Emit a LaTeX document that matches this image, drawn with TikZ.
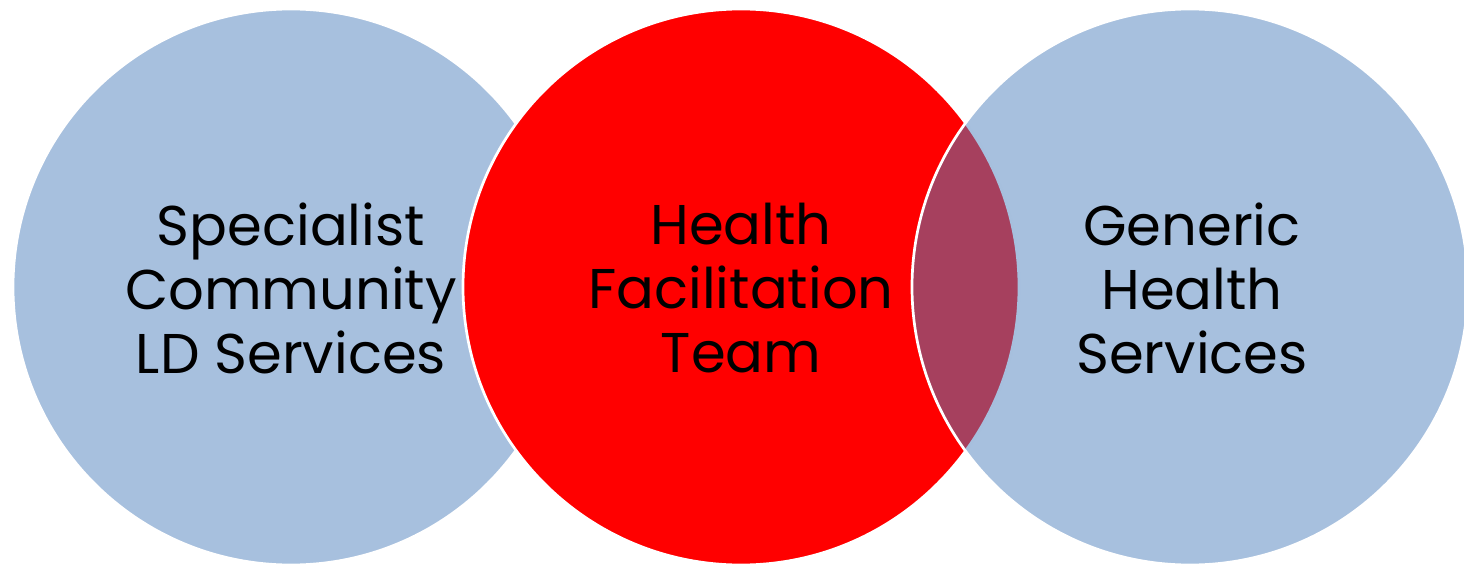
\documentclass[tikz,border=0pt]{standalone}
\usepackage{fontspec}
\setmainfont{Poppins}
\definecolor{officeblue}{RGB}{79,129,189}
\definecolor{vennred}{RGB}{255,0,0}
\begin{document}
\begin{tikzpicture}[x=1pt,y=-1pt,
  venn/.style={circle, minimum size=556pt, inner sep=0pt, draw=white, line width=2.7pt},
  bluecircle/.style={venn, fill=officeblue, fill opacity=0.5},
  redcircle/.style={venn, fill=vennred},
  label/.style={align=center, text=black, font=\fontsize{56}{64}\selectfont}]
\useasboundingbox (0,0) rectangle (1464,567);
\node[bluecircle] (left) at (291,287) {};
\node[redcircle] (mid) at (741,287) {};
\node[bluecircle] (right) at (1190,287) {};
\node[label] (ltext) at (291,288) {Specialist\\Community\\LD Services};
\node[label] (mtext) at (741,288) {Health\\Facilitation\\Team};
\node[label] (rtext) at (1192,288) {Generic\\Health\\Services};
\end{tikzpicture}
\end{document}
